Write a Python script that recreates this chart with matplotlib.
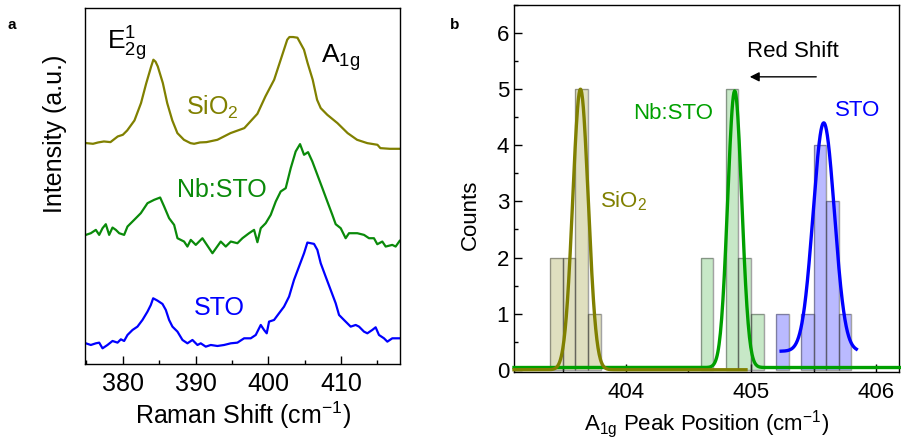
import numpy as np
import matplotlib
matplotlib.use("Agg")
import matplotlib.pyplot as plt
from matplotlib.ticker import MultipleLocator

plt.rcParams['font.family'] = ['Liberation Sans', 'DejaVu Sans']
plt.rcParams['mathtext.fontset'] = 'custom'
plt.rcParams['mathtext.rm'] = 'Liberation Sans'
plt.rcParams['mathtext.it'] = 'Liberation Sans'
plt.rcParams['mathtext.default'] = 'regular'

OLIVE = '#808000'
GREEN_A = '#0a8a0a'
GREEN_B = '#00a000'
BLUE = '#0000ff'

# ---- panel a: Raman spectra (stacked, arbitrary units) ----
sio2_shift = [375.0, 375.9, 376.6, 377.4, 378.3, 379.3, 380.0, 380.6, 381.6, 382.5,
              383.2, 383.9, 384.2, 384.5, 384.8, 385.5, 386.1, 386.8, 387.5, 388.4,
              389.3, 389.8, 390.6, 391.5, 393.0, 394.8, 396.7, 398.5, 399.6, 400.8,
              401.7, 402.6, 402.9, 403.4, 404.0, 404.9, 405.4, 406.1, 406.7, 407.2,
              408.1, 409.5, 410.9, 412.2, 413.6, 415.0, 415.4, 416.7, 418.0]
sio2_int = [662, 660, 664, 667, 665, 682, 687, 700, 730, 782,
            840, 892, 912, 906, 892, 842, 782, 730, 692, 672,
            662, 660, 664, 665, 672, 692, 707, 750, 802, 852,
            912, 972, 980, 980, 978, 942, 902, 852, 792, 767,
            747, 722, 692, 672, 662, 657, 647, 645, 645]

nbsto_shift = [374.92, 375.60, 376.29, 376.75, 377.21, 377.66, 378.12, 378.58, 379.04, 379.50,
               380.18, 380.64, 381.56, 382.47, 383.39, 384.30, 385.13, 385.68, 386.36, 387.05,
               387.51, 388.42, 388.88, 389.34, 390.03, 390.94, 391.40, 392.32, 393.46, 394.15,
               394.84, 395.75, 396.44, 397.35, 398.04, 398.50, 398.96, 399.64, 400.33, 401.02,
               401.70, 402.39, 403.08, 403.76, 404.36, 404.91, 405.46, 406.05, 406.74, 407.43,
               408.11, 408.80, 409.26, 409.95, 410.63, 411.09, 412.23, 413.15, 413.84, 414.52,
               414.98, 415.67, 416.13, 417.04, 417.50, 418.05]
nbsto_int = [387, 392, 402, 387, 407, 419, 387, 409, 402, 392,
             387, 412, 432, 452, 482, 492, 499, 472, 437, 417,
             377, 367, 352, 372, 357, 377, 362, 332, 367, 352,
             367, 362, 377, 392, 402, 365, 407, 422, 447, 487,
             517, 527, 587, 637, 659, 627, 635, 607, 567, 527,
             487, 447, 419, 407, 377, 392, 392, 387, 377, 377,
             359, 367, 352, 357, 352, 369]

sto_shift = [374.92, 375.60, 376.29, 376.75, 377.21, 377.89, 378.58, 379.27, 379.73, 380.18,
             380.64, 381.33, 382.01, 382.70, 383.39, 383.85, 384.17, 384.76, 385.45, 385.91,
             386.36, 386.82, 387.51, 388.20, 388.88, 389.57, 390.26, 390.71, 391.40, 392.09,
             393.00, 393.92, 394.84, 395.75, 396.67, 397.58, 398.27, 398.96, 399.41, 399.78,
             400.10, 400.79, 401.47, 402.16, 402.85, 403.53, 404.22, 404.91, 405.37, 406.28,
             406.74, 407.20, 407.88, 408.57, 409.26, 409.72, 410.40, 411.32, 412.01, 412.47,
             413.15, 413.61, 414.29, 414.75, 415.21, 415.90, 416.36, 417.04, 417.96]
sto_int = [62, 57, 62, 64, 47, 57, 69, 64, 74, 69,
           87, 102, 112, 132, 157, 177, 197, 190, 180, 162,
           132, 112, 97, 72, 62, 72, 57, 62, 52, 57,
           54, 57, 62, 64, 77, 77, 87, 117, 102, 92,
           127, 132, 152, 172, 202, 252, 292, 332, 364, 360,
           342, 302, 262, 222, 182, 147, 132, 112, 117, 112,
           97, 92, 102, 110, 87, 77, 67, 77, 77]

# ---- panel b: A1g peak position histograms (bin width 0.1 cm-1) ----
bin_width = 0.1
sio2_bins = [403.4, 403.5, 403.6, 403.7]
sio2_counts = [2, 2, 5, 1]
nbsto_bins = [404.6, 404.7, 404.8, 404.9, 405.0]
nbsto_counts = [2, 0, 5, 2, 1]
sto_bins = [405.2, 405.3, 405.4, 405.5, 405.6, 405.7]
sto_counts = [1, 0, 1, 4, 3, 1]

# gaussian fit parameters: (centre, sigma, amplitude, offset, x start, x end)
sio2_fit = (403.64, 0.062, 5.0, 0.0, 403.11, 404.96)
nbsto_fit = (404.87, 0.056, 4.93, 0.04, 403.11, 406.2)
sto_fit = (405.58, 0.085, 4.07, 0.33, 405.24, 405.84)


def gauss_curve(params):
    xc, sig, amp, y0, x0, x1 = params
    x = np.linspace(x0, x1, 600)
    return x, y0 + amp * np.exp(-0.5 * ((x - xc) / sig) ** 2)


fig = plt.figure(figsize=(9.01, 4.46), dpi=100)
W, H = 901, 446

# panel a
ax = fig.add_axes([85 / W, (H - 364) / H, (400 - 85) / W, (364 - 8) / H])
ax.plot(sio2_shift, sio2_int, color=OLIVE, lw=1.6)
ax.plot(nbsto_shift, nbsto_int, color=GREEN_A, lw=1.6)
ax.plot(sto_shift, sto_int, color=BLUE, lw=1.6)
ax.set_xlim(374.8, 418.1)
ax.set_ylim(0, 1067)
ax.set_yticks([])
ax.xaxis.set_major_locator(MultipleLocator(10))
ax.xaxis.set_minor_locator(MultipleLocator(5))
ax.tick_params(axis='x', which='major', direction='in', length=6, width=1, labelsize=18, pad=6)
ax.tick_params(axis='x', which='minor', direction='in', length=3, width=1)
ax.set_xlabel('Raman Shift (cm$^{-1}$)', fontsize=18, labelpad=2)
for s in ax.spines.values():
    s.set_linewidth(1.0)

ax.text(380.45, 960, 'E$_{2g}^{1}$', fontsize=19, ha='center', va='center')
ax.text(409.9, 918, 'A$_{1g}$', fontsize=19, ha='center', va='center')
ax.text(392.3, 768, 'SiO$_2$', fontsize=18, color=OLIVE, ha='center', va='center')
ax.text(393.6, 522, 'Nb:STO', fontsize=18, color=GREEN_A, ha='center', va='center')
ax.text(393.2, 168, 'STO', fontsize=18, color=BLUE, ha='center', va='center')
fig.text(55 / W, 1 - 134 / H, 'Intensity (a.u.)', rotation=90, fontsize=18,
         ha='center', va='center')
fig.text(12 / W, 1 - 25 / H, 'a', fontsize=11, fontweight='bold', ha='center', va='center')

# panel b
bx = fig.add_axes([514 / W, (H - 372) / H, (899 - 514) / W, (372 - 5) / H])
hist_sets = [(sio2_bins, sio2_counts, OLIVE, 0.25),
             (nbsto_bins, nbsto_counts, '#009900', 0.22),
             (sto_bins, sto_counts, BLUE, 0.27)]
for bins, counts, col, a in hist_sets:
    left = [b for b, c in zip(bins, counts) if c > 0]
    hgt = [c for c in counts if c > 0]
    bx.bar(left, hgt, width=bin_width, align='edge', color=col, alpha=a,
           edgecolor='none', zorder=1)
    bx.bar(left, hgt, width=bin_width, align='edge', facecolor='none',
           edgecolor=(0.2, 0.2, 0.2, 0.45), lw=1.0, zorder=2)

for params, col in [(nbsto_fit, GREEN_B), (sio2_fit, OLIVE), (sto_fit, BLUE)]:
    gx, gy = gauss_curve(params)
    bx.plot(gx, gy, color=col, lw=2.4, zorder=3, clip_on=False)

bx.set_xlim(403.11, 406.18)
bx.set_ylim(-0.04, 6.5)
bx.xaxis.set_major_locator(MultipleLocator(1))
bx.xaxis.set_minor_locator(MultipleLocator(0.5))
bx.yaxis.set_major_locator(MultipleLocator(1))
bx.yaxis.set_minor_locator(MultipleLocator(0.5))
bx.tick_params(which='major', direction='in', length=6, width=1, labelsize=16)
bx.tick_params(which='minor', direction='in', length=3, width=1)
bx.tick_params(axis='x', pad=7)
bx.set_xlabel('A$_{1g}$ Peak Position (cm$^{-1}$)', fontsize=16, labelpad=4)
for s in bx.spines.values():
    s.set_linewidth(1.0)

bx.text(405.33, 5.68, 'Red Shift', fontsize=16, ha='center', va='center')
bx.annotate('', xy=(404.99, 5.22), xytext=(405.52, 5.22),
            arrowprops=dict(arrowstyle='-|>', color='black', lw=1.0,
                            mutation_scale=14, shrinkA=0, shrinkB=0))
bx.text(404.38, 4.57, 'Nb:STO', fontsize=16, color=GREEN_B, ha='center', va='center')
bx.text(405.85, 4.62, 'STO', fontsize=16, color=BLUE, ha='center', va='center')
bx.text(403.98, 3.0, 'SiO$_2$', fontsize=16, color=OLIVE, ha='center', va='center')
fig.text(470 / W, 1 - 215 / H, 'Counts', rotation=90, fontsize=16,
         ha='center', va='center')
fig.text(455 / W, 1 - 25 / H, 'b', fontsize=11, fontweight='bold', ha='center', va='center')

fig.savefig('out.png', dpi=100)
